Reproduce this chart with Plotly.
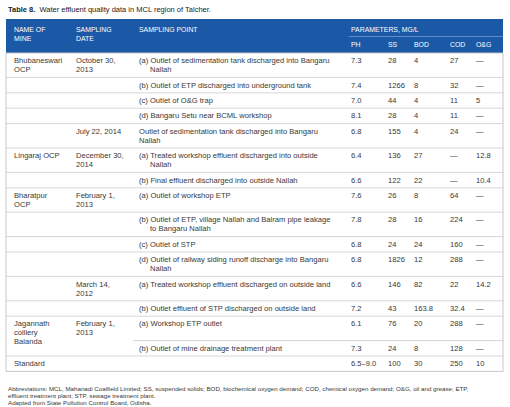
import plotly.graph_objects as go

# ---------------- data ----------------
title_bold = "Table 8."
title_rest = "Water effluent quality data in MCL region of Talcher."

col_headers = ["NAME OF<br>MINE", "SAMPLING<br>DATE", "SAMPLING POINT"]
param_header = "PARAMETERS, MG/L"
param_cols = ["PH", "SS", "BOD", "COD", "O&G"]

mines = ["Bhubaneswari<br>OCP", "", "", "", "", "Lingaraj OCP", "", "Bharatpur<br>OCP",
         "", "", "", "", "", "Jagannath<br>colliery<br>Balanda", "", "Standard"]
mine_rowspan = [1, 1, 1, 1, 1, 1, 1, 1, 1, 1, 1, 1, 1, 2, 0, 1]
dates = ["October 30,<br>2013", "", "", "", "July 22, 2014", "December 30,<br>2014", "",
         "February 1,<br>2013", "", "", "", "March 14,<br>2012", "", "February 1,<br>2013", "", ""]
points = [
    "(a) Outlet of sedimentation tank discharged into Bangaru<br>Nallah",
    "(b) Outlet of ETP discharged into underground tank",
    "(c) Outlet of O&G trap",
    "(d) Bangaru Setu near BCML workshop",
    "Outlet of sedimentation tank discharged into Bangaru<br>Nallah",
    "(a) Treated workshop effluent discharged into outside<br>Nallah",
    "(b) Final effluent discharged into outside Nallah",
    "(a) Outlet of workshop ETP",
    "(b) Outlet of ETP, village Nallah and Balram pipe leakage<br>to Bangaru Nallah",
    "(c) Outlet of STP",
    "(d) Outlet of railway siding runoff discharge into Bangaru<br>Nallah",
    "(a) Treated workshop effluent discharged on outside land",
    "(b) Outlet effluent of STP discharged on outside land",
    "(a) Workshop ETP outlet",
    "(b) Outlet of mine drainage treatment plant",
    "",
]
ph = ["7.3", "7.4", "7.0", "8.1", "6.8", "6.4", "6.6", "7.6", "7.8", "6.8", "6.8", "6.6", "7.2", "6.1", "7.3", "6.5–9.0"]
ss = ["28", "1266", "44", "28", "155", "136", "122", "26", "28", "24", "1826", "146", "43", "76", "24", "100"]
bod = ["4", "8", "4", "4", "4", "27", "22", "8", "16", "24", "12", "82", "163.8", "20", "8", "30"]
cod = ["27", "32", "11", "11", "24", "—", "—", "64", "224", "160", "288", "22", "32.4", "288", "128", "250"]
og = ["—", "—", "5", "—", "—", "12.8", "10.4", "—", "—", "—", "—", "14.2", "—", "—", "—", "10"]

footnotes = [
    "Abbreviations: MCL, Mahanadi Coalfield Limited; SS, suspended solids; BOD, biochemical oxygen demand; COD, chemical oxygen demand; O&G, oil and grease; ETP,",
    "effluent treatment plant; STP, sewage treatment plant.",
    "Adapted from State Pollution Control Board, Odisha.",
]

# ---------------- layout constants ----------------
W, H = 510, 407
FONT = "Liberation Sans, Arial, Helvetica, sans-serif"
BLUE = "#1b58a6"
TXT = "#383838"
SEP = "#d6d6d6"
BORDER = "#c8c8c8"

LEFT, RIGHT = 6, 503
HEAD_TOP, HEAD_BOT = 19, 53
LINE = 9.0
PAD = 3.2
BODY_FS = 7.6
HEAD_FS = 6.9

x_name, x_date, x_point = 12, 74, 137
x_params = [349, 386, 412, 448, 474]
indent = 11

shapes = []
ann = []


def text(x, y, s, size=BODY_FS, color=TXT, anchor="left"):
    ann.append(dict(x=x, y=y, xref="x", yref="y", text=s, showarrow=False,
                    xanchor=anchor, yanchor="middle",
                    font=dict(family=FONT, size=size, color=color)))


# title
text(LEFT, 9.5, "<b>" + title_bold + "</b>  " + title_rest, size=7.5, color="#222222")

# header band
shapes.append(dict(type="rect", xref="x", yref="y", x0=LEFT, x1=RIGHT, y0=HEAD_TOP, y1=HEAD_BOT,
                   fillcolor=BLUE, line=dict(width=0), layer="below"))
for xh, h in zip([x_name, x_date, x_point], col_headers):
    for k, part in enumerate(h.split("<br>")):
        text(xh, 29 + k * 9.5, part, size=HEAD_FS, color="white")
text(x_params[0], 29, param_header, size=HEAD_FS, color="white")
shapes.append(dict(type="line", xref="x", yref="y", x0=x_params[0], x1=RIGHT, y0=36.5, y1=36.5,
                   line=dict(color="#5f8fcb", width=1)))
for xp, p in zip(x_params, param_cols):
    text(xp, 44.5, p, size=HEAD_FS, color="white")

# body rows
n = len(points)
row_lines = []
for i in range(n):
    cells = [dates[i], points[i]]
    if mine_rowspan[i] == 1:
        cells.append(mines[i])
    row_lines.append(max(len(c.split("<br>")) for c in cells))

y = HEAD_BOT
row_tops = []
for i in range(n):
    row_tops.append(y)
    y += 2 * PAD + LINE * row_lines[i]
bottom = y
row_tops.append(bottom)

for i in range(n):
    y0 = row_tops[i] + PAD + LINE / 2
    for k, part in enumerate(mines[i].split("<br>")):
        if part:
            text(x_name, y0 + k * LINE, part)
    for k, part in enumerate(dates[i].split("<br>")):
        if part:
            text(x_date, y0 + k * LINE, part)
    labelled = points[i].startswith("(")
    for k, part in enumerate(points[i].split("<br>")):
        if part:
            text(x_point + (indent if (k > 0 and labelled) else 0), y0 + k * LINE, part)
    for xp, vals in zip(x_params, [ph, ss, bod, cod, og]):
        text(xp, y0, vals[i])
    if i < n - 1:
        xs = x_point - 4 if mine_rowspan[i] == 2 else LEFT
        shapes.append(dict(type="line", xref="x", yref="y", x0=xs, x1=RIGHT,
                           y0=row_tops[i + 1], y1=row_tops[i + 1], line=dict(color=SEP, width=1)))

# outer border of body
shapes.append(dict(type="rect", xref="x", yref="y", x0=LEFT, x1=RIGHT, y0=HEAD_BOT, y1=bottom,
                   line=dict(color=BORDER, width=1), fillcolor="rgba(0,0,0,0)"))

# footnotes
fy = bottom + 17
for k, f in enumerate(footnotes):
    text(LEFT, fy + k * 7.1, f, size=6.2)

fig = go.Figure()
fig.add_trace(go.Scatter(x=[0, W], y=[0, H], mode="markers", marker=dict(opacity=0), hoverinfo="skip",
                         showlegend=False))
fig.update_layout(
    width=W, height=H, margin=dict(l=0, r=0, t=0, b=0),
    paper_bgcolor="white", plot_bgcolor="white",
    xaxis=dict(range=[0, W], visible=False, fixedrange=True),
    yaxis=dict(range=[H, 0], visible=False, fixedrange=True),
    shapes=shapes, annotations=ann, showlegend=False,
)
fig.write_html("out.html", config={"displayModeBar": False, "staticPlot": True},
               post_script="document.body.style.margin='0px';document.body.style.overflow='hidden';")
